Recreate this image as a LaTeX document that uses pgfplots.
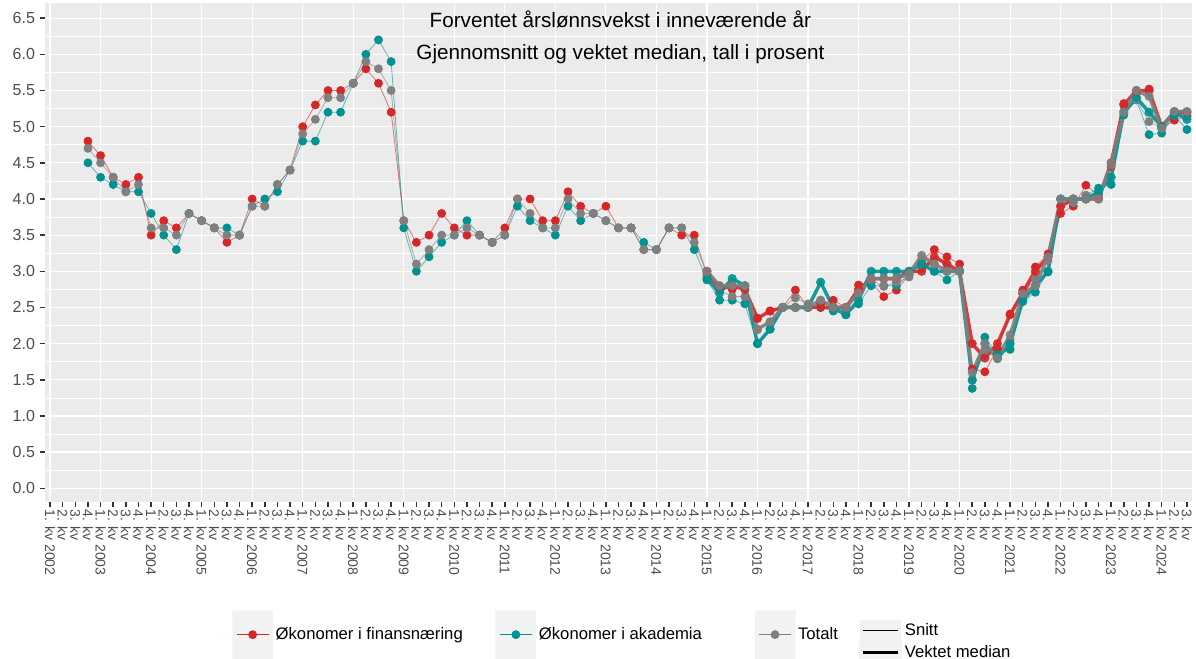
\documentclass[border=0pt]{standalone}
\usepackage{fontspec}
\setmainfont{Liberation Sans}
\usepackage{pgfplots}
\usepackage{pgfplotstable}
\pgfplotsset{compat=1.18}

\definecolor{finred}{RGB}{214,39,40}
\definecolor{akateal}{RGB}{0,146,146}
\definecolor{totgrey}{RGB}{128,128,128}
\definecolor{panel}{RGB}{235,235,235}
\definecolor{keybg}{RGB}{242,242,242}
\definecolor{ticktext}{RGB}{77,77,77}

% Snitt (gjennomsnitt), alle kvartaler; i = 0 er 1. kv 2002
\pgfplotstableread{
i fin aka tot
3 4.8 4.5 4.7
4 4.6 4.3 4.5
5 4.3 4.2 4.3
6 4.2 4.1 4.1
7 4.3 4.1 4.2
8 3.5 3.8 3.6
9 3.7 3.5 3.6
10 3.6 3.3 3.5
11 3.8 3.8 3.8
12 3.7 3.7 3.7
13 3.6 3.6 3.6
14 3.4 3.6 3.5
15 3.5 3.5 3.5
16 4.0 3.9 3.9
17 3.9 4.0 3.9
18 4.2 4.1 4.2
19 4.4 4.4 4.4
20 5.0 4.8 4.9
21 5.3 4.8 5.1
22 5.5 5.2 5.4
23 5.5 5.2 5.4
24 5.6 5.6 5.6
25 5.8 6.0 5.9
26 5.6 6.2 5.8
27 5.2 5.9 5.5
28 3.7 3.6 3.7
29 3.4 3.0 3.1
30 3.5 3.2 3.3
31 3.8 3.4 3.5
32 3.6 3.5 3.5
33 3.5 3.7 3.6
34 3.5 3.5 3.5
35 3.4 3.4 3.4
36 3.6 3.5 3.5
37 4.0 3.9 4.0
38 4.0 3.7 3.8
39 3.7 3.6 3.6
40 3.7 3.5 3.6
41 4.1 3.9 4.0
42 3.9 3.7 3.8
43 3.8 3.8 3.8
44 3.9 3.7 3.7
45 3.6 3.6 3.6
46 3.6 3.6 3.6
47 3.3 3.4 3.3
48 3.3 3.3 3.3
49 3.6 3.6 3.6
50 3.5 3.6 3.6
51 3.5 3.3 3.4
52 2.95 2.88 2.97
53 2.80 2.60 2.74
54 2.75 2.60 2.65
55 2.80 2.55 2.65
56 2.35 2.00 2.19
57 2.45 2.20 2.30
58 2.50 2.50 2.50
59 2.74 2.50 2.63
60 2.50 2.50 2.55
61 2.55 2.50 2.60
62 2.60 2.45 2.51
63 2.50 2.40 2.45
64 2.81 2.55 2.72
65 2.85 2.80 2.88
66 2.65 2.80 2.79
67 2.74 2.80 2.85
68 2.95 2.95 2.92
69 3.15 3.10 3.15
70 3.30 3.00 3.09
71 3.20 2.88 3.04
72 3.10 3.00 3.01
73 1.65 1.38 1.49
74 1.61 2.09 1.90
75 1.93 1.85 1.79
76 2.41 1.92 2.05
77 2.74 2.58 2.69
78 3.06 2.71 2.90
79 3.24 2.99 3.15
80 3.80 4.00 3.90
81 3.90 3.95 3.95
82 4.19 4.05 4.05
83 4.05 4.15 4.05
84 4.45 4.20 4.47
85 5.32 5.16 5.21
86 5.46 5.37 5.37
87 5.52 4.89 5.07
88 4.98 4.91 4.98
89 5.09 5.15 5.21
90 5.15 4.96 5.15
}\snitt

% Vektet median, fra 2015
\pgfplotstableread{
i fin aka tot
52 3.00 2.90 3.00
53 2.75 2.70 2.80
54 2.80 2.90 2.80
55 2.75 2.80 2.80
56 2.35 2.00 2.20
57 2.45 2.20 2.30
58 2.50 2.50 2.50
59 2.50 2.50 2.50
60 2.50 2.50 2.50
61 2.50 2.85 2.60
62 2.50 2.50 2.50
63 2.50 2.40 2.50
64 2.75 2.60 2.70
65 2.90 3.00 2.90
66 2.90 3.00 2.90
67 2.90 3.00 2.90
68 3.00 3.00 2.97
69 3.00 3.10 3.22
70 3.20 3.00 3.10
71 3.10 3.00 3.00
72 3.00 3.00 3.00
73 2.00 1.50 1.60
74 1.80 2.00 2.00
75 2.00 1.80 1.80
76 2.40 2.00 2.12
77 2.70 2.60 2.69
78 3.00 2.80 2.80
79 3.20 3.00 3.20
80 3.90 4.00 4.00
81 4.00 4.00 4.00
82 4.00 4.00 4.00
83 4.00 4.10 4.00
84 4.50 4.30 4.50
85 5.30 5.20 5.20
86 5.50 5.40 5.50
87 5.50 5.20 5.42
88 5.00 5.00 4.98
89 5.20 5.20 5.21
90 5.20 5.10 5.21
}\median

\pgfplotsset{
  thinline/.style={#1, line width=0.6pt, draw opacity=0.6, mark=*, mark size=3pt,
    mark options={solid, fill=#1, draw=#1, draw opacity=1, fill opacity=1}},
  thickline/.style={#1, line width=2.6pt, draw opacity=0.9, mark=*, mark size=3.2pt,
    mark options={solid, fill=#1, draw=#1, line width=0.4pt, draw opacity=0.9, fill opacity=0.9}},
  boxlegend/.style={
    legend image code/.code={
      \fill[keybg] (0pt,-18pt) rectangle (30pt,18pt);
      \draw[mark repeat=2,mark phase=2,##1,draw opacity=1]
        plot coordinates {(3pt,0pt) (15pt,0pt) (27pt,0pt)};
    }
  },
  linelegend/.style={
    legend image code/.code={
      \fill[keybg] (0pt,-7.4pt) rectangle (30pt,7.4pt);
      \draw[##1] (2pt,0pt) -- (28pt,0pt);
    }
  },
}

\begin{document}
\begin{tikzpicture}
\begin{axis}[
  scale only axis,
  width=860.25pt, height=374.25pt,
  xmin=-0.4, xmax=90.4,
  ymin=-0.19, ymax=6.71,
  axis background/.style={fill=panel},
  axis line style={draw=none},
  tick pos=left,
  tick align=outside,
  major tick length=4pt,
  minor tick length=0pt,
  tick style={draw=black!80, line width=1.1pt},
  xtick={0,...,90},
  xticklabel={\pgfmathtruncatemacro\qq{mod(round(\tick),4)+1}\pgfmathtruncatemacro\yy{2002+floor(round(\tick)/4)}\ifnum\qq=1 \qq. kv \yy\else\qq. kv\fi},
  x tick label style={rotate=-90, anchor=west, font=\fontsize{10.5}{11}\selectfont, text=ticktext, inner sep=1.5pt},
  extra x ticks={0,4,...,88},
  extra x tick style={grid=major, major tick length=0pt, tick style={draw=none}, xticklabel={}},
  ytick={0,0.5,...,6.5},
  minor y tick num=1,
  ymajorgrids, yminorgrids,
  major grid style={white, line width=0.9pt},
  minor grid style={white, line width=0.45pt},
  y tick label style={font=\fontsize{12}{12}\selectfont, text=ticktext,
    /pgf/number format/.cd, fixed, fixed zerofill, precision=1, assume math mode=true},
  boxlegend,
  legend columns=3,
  legend cell align=left,
  legend style={at={(0.163,-0.2164)}, anchor=north west, draw=none, fill=none,
    font=\fontsize{12.5}{14}\selectfont, inner sep=0pt,
    nodes={inner xsep=2pt, inner ysep=1pt},
    /tikz/column 2/.style={column sep=22.5pt},
    /tikz/column 4/.style={column sep=37.5pt}},
]
\coordinate (sw) at (rel axis cs:0,0);
\coordinate (ne) at (rel axis cs:1,1);

\addplot[thinline=finred] table[x=i,y=fin]{\snitt};
\addplot[thinline=akateal] table[x=i,y=aka]{\snitt};
\addplot[thinline=totgrey] table[x=i,y=tot]{\snitt};
\legend{Økonomer i finansnæring, Økonomer i akademia, Totalt}

\addplot[thickline=finred, forget plot] table[x=i,y=fin]{\median};
\addplot[thickline=akateal, forget plot] table[x=i,y=aka]{\median};
\addplot[thickline=totgrey, forget plot] table[x=i,y=tot]{\median};

\node[font=\fontsize{15.5}{18}\selectfont] at (axis cs:45.15,6.48) {Forventet årslønnsvekst i inneværende år};
\node[font=\fontsize{15.5}{18}\selectfont] at (axis cs:45.15,6.0) {Gjennomsnitt og vektet median, tall i prosent};
\end{axis}

\begin{axis}[
  scale only axis,
  width=860.25pt, height=374.25pt,
  xmin=0, xmax=1, ymin=0, ymax=1,
  hide axis,
  linelegend,
  legend cell align=left,
  legend style={at={(0.709,-0.2365)}, anchor=north west, draw=none, fill=none,
    font=\fontsize{12.5}{14}\selectfont, inner sep=0pt, row sep=0pt,
    nodes={inner xsep=2pt, inner ysep=0.8pt}},
]
\addlegendimage{black, line width=0.5pt}
\addlegendentry{Snitt}
\addlegendimage{black, line width=2.8pt}
\addlegendentry{Vektet median}
\end{axis}

\pgfresetboundingbox
\path ([shift={(-33.75pt,-117.75pt)}]sw) rectangle ([shift={(3pt,2.25pt)}]ne);
\end{tikzpicture}
\end{document}
